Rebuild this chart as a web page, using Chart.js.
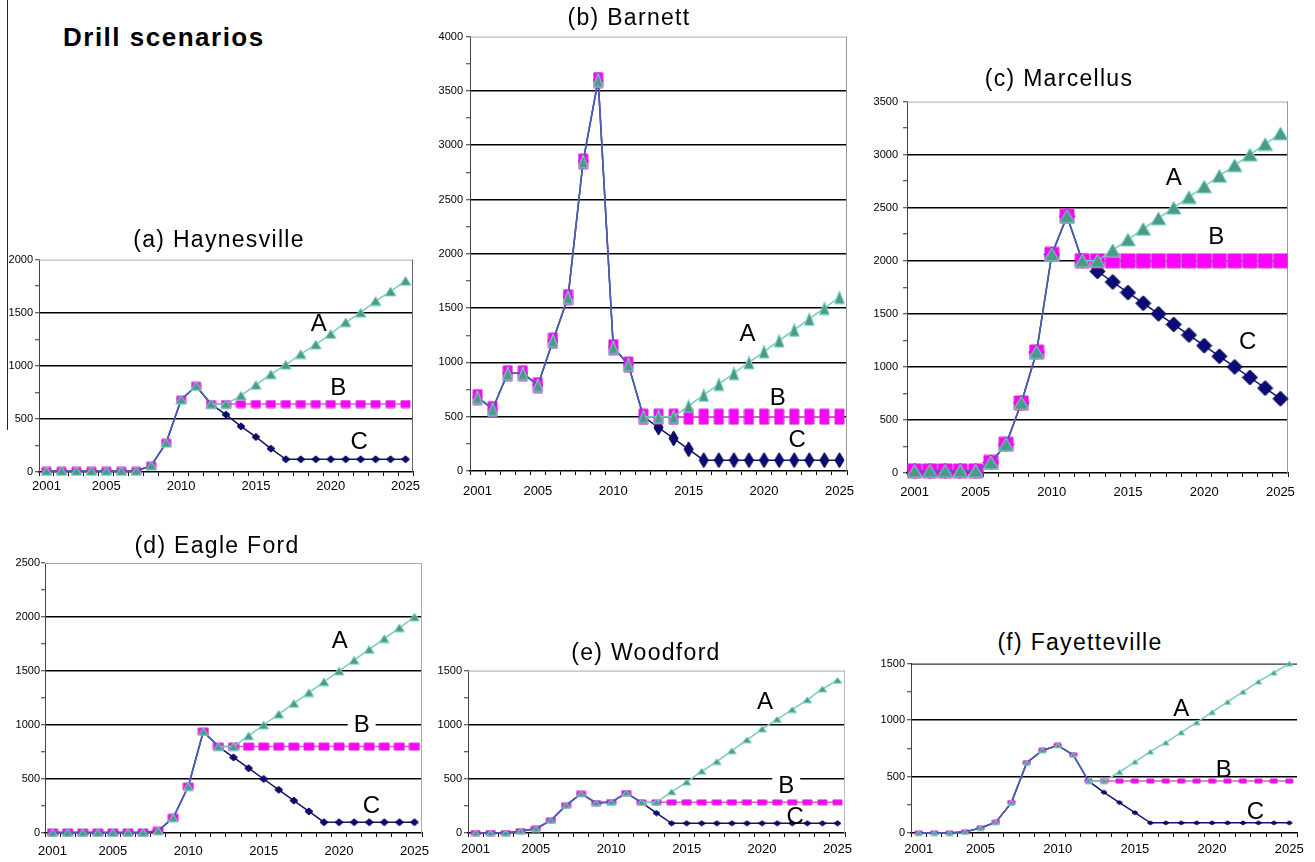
<!DOCTYPE html>
<html>
<head>
<meta charset="utf-8">
<script src="https://cdn.jsdelivr.net/npm/chart.js@4.4.1/dist/chart.umd.min.js"></script>
<style>
  body { margin: 0; background: #fff; width: 1315px; height: 862px; position: relative; overflow: hidden;
         font-family: Arial, "Liberation Sans", sans-serif; }
  #edge { position: absolute; left: 7px; top: 0; width: 1px; height: 430px; background: #222; }
  #heading { position: absolute; left: 63px; top: 22px; font-size: 26px; line-height: 30px; font-weight: bold;
             letter-spacing: 1.5px; white-space: nowrap; }
  .title { position: absolute; width: 300px; text-align: center; font-size: 23px; line-height: 26px;
           letter-spacing: 1.3px; white-space: nowrap; }
  canvas { position: absolute; }
</style>
</head>
<body>
<div id="edge"></div>
<div id="heading">Drill scenarios</div>
<script>
// years on the x axis, only some of them get a label
const years = ['2001','2002','2003','2004','2005','2006','2007','2008','2009','2010','2011','2012','2013',
               '2014','2015','2016','2017','2018','2019','2020','2021','2022','2023','2024','2025'];
const xTickLabels = ['2001','2005','2010','2015','2020','2025'];

// (a) Haynesville
const haynesvilleA = [10,10,10,10,10,10,10,60,275,680,810,640,640,720,820,920,1010,1110,1200,1300,1410,1500,1610,1700,1800];
const haynesvilleB = [10,10,10,10,10,10,10,60,275,680,810,640,640,640,640,640,640,640,640,640,640,640,640,640,640];
const haynesvilleC = [10,10,10,10,10,10,10,60,275,680,810,640,540,430,330,220,120,120,120,120,120,120,120,120,120];
// (b) Barnett
const barnettA = [680,570,900,900,790,1200,1600,2850,3600,1140,980,500,500,500,600,700,800,900,1000,1100,1200,1300,1400,1500,1600];
const barnettB = [680,570,900,900,790,1200,1600,2850,3600,1140,980,500,500,500,500,500,500,500,500,500,500,500,500,500,500];
const barnettC = [680,570,900,900,790,1200,1600,2850,3600,1140,980,500,400,300,200,100,100,100,100,100,100,100,100,100,100];
// (c) Marcellus
const marcellusA = [20,20,20,20,20,100,270,660,1140,2060,2420,2000,2000,2100,2200,2300,2400,2500,2600,2700,2800,2900,3000,3100,3200];
const marcellusB = [20,20,20,20,20,100,270,660,1140,2060,2420,2000,2000,2000,2000,2000,2000,2000,2000,2000,2000,2000,2000,2000,2000];
const marcellusC = [20,20,20,20,20,100,270,660,1140,2060,2420,2000,1900,1800,1700,1600,1500,1400,1300,1200,1100,1000,900,800,700];
// (d) Eagle Ford
const eagleFordA = [5,5,5,5,5,5,5,20,140,430,940,800,800,900,1000,1100,1200,1300,1400,1500,1600,1700,1800,1900,2000];
const eagleFordB = [5,5,5,5,5,5,5,20,140,430,940,800,800,800,800,800,800,800,800,800,800,800,800,800,800];
const eagleFordC = [5,5,5,5,5,5,5,20,140,430,940,800,700,600,500,400,300,200,100,100,100,100,100,100,100];
// (e) Woodford
const woodfordA = [0,0,0,18,40,117,255,363,277,286,369,283,283,380,470,570,660,760,860,960,1050,1140,1230,1330,1410];
const woodfordB = [0,0,0,18,40,117,255,363,277,286,369,283,283,283,283,283,283,283,283,283,283,283,283,283,283];
const woodfordC = [0,0,0,18,40,117,255,363,277,286,369,283,184,90,90,90,90,90,90,90,90,90,90,90,90];
// (f) Fayetteville
const fayettevilleA = [0,0,0,10,44,96,269,623,731,775,693,460,460,540,630,720,800,890,980,1070,1160,1250,1340,1420,1500];
const fayettevilleB = [0,0,0,10,44,96,269,623,731,775,693,460,460,460,460,460,460,460,460,460,460,460,460,460,460];
const fayettevilleC = [0,0,0,10,44,96,269,623,731,775,693,460,360,270,180,90,90,90,90,90,90,90,90,90,90];

// y axis maximum of each panel (a..f)
const yAxisMax = [2000, 4000, 3500, 2500, 1500, 1500];

Chart.defaults.font.family = 'Arial, "Liberation Sans", sans-serif';
Chart.defaults.color = '#000';

const histColor = '#4e5cae';

function marker(shape, w, h, fill, stroke) {
    const c = document.createElement('canvas');
    c.width = w + 2;
    c.height = h + 2;
    const g = c.getContext('2d');
    g.fillStyle = fill;
    g.strokeStyle = stroke;
    g.lineWidth = 1;
    g.beginPath();
    if (shape === 'tri') {
        g.moveTo(1 + w / 2, 1); g.lineTo(1 + w, 1 + h); g.lineTo(1, 1 + h);
    } else if (shape === 'dia') {
        g.moveTo(1 + w / 2, 1); g.lineTo(1 + w, 1 + h / 2); g.lineTo(1 + w / 2, 1 + h); g.lineTo(1, 1 + h / 2);
    } else {
        g.rect(1, 1, w, h);
    }
    g.closePath();
    g.fill();
    g.stroke();
    return c;
}

// plot rectangles [left, top, right, bottom] and title centres taken from the figure layout
const panels = [
    { title: '(a) Haynesville', A: haynesvilleA, B: haynesvilleB, C: haynesvilleC, max: yAxisMax[0],
      rect: [39, 259, 413, 472], titleAt: [219, 239], xPad: 3, yPad: 2,
      mk: { tri: [11, 9], sq: [9, 7], dia: [8, 7] }, top: '#aaa', right: '#666',
      letters: [{ t: 'A', x: 18.2, y: 1400 }, { t: 'B', x: 19.5, y: 800 }, { t: 'C', x: 20.9, y: 290 }] },
    { title: '(b) Barnett', A: barnettA, B: barnettB, C: barnettC, max: yAxisMax[1],
      rect: [470, 35, 847, 471], titleAt: [629, 17], xPad: 9, yPad: 3,
      mk: { tri: [10, 13], sq: [9, 15], dia: [9, 15] }, top: '#aaa', right: '#999',
      letters: [{ t: 'A', x: 17.9, y: 1270 }, { t: 'B', x: 19.9, y: 680 }, { t: 'C', x: 21.2, y: 290 }] },
    { title: '(c) Marcellus', A: marcellusA, B: marcellusB, C: marcellusC, max: yAxisMax[2],
      rect: [907, 98, 1288, 473], titleAt: [1059, 78], xPad: 8, yPad: 5,
      mk: { tri: [15, 13], sq: [14, 14], dia: [15, 15] }, top: '#aaa', right: '#999',
      letters: [{ t: 'A', x: 17.0, y: 2790 }, { t: 'B', x: 19.8, y: 2230 }, { t: 'C', x: 21.85, y: 1240 }] },
    { title: '(d) Eagle Ford', A: eagleFordA, B: eagleFordB, C: eagleFordC, max: yAxisMax[3],
      rect: [45, 563, 422, 833], titleAt: [217, 545], xPad: 7, yPad: 1,
      mk: { tri: [10, 8], sq: [10, 7], dia: [8, 7] }, top: '#aaa', right: '#aaa',
      letters: [{ t: 'A', x: 19.05, y: 1780 }, { t: 'B', x: 20.5, y: 1010, bg: true }, { t: 'C', x: 21.15, y: 260 }] },
    { title: '(e) Woodford', A: woodfordA, B: woodfordB, C: woodfordC, max: yAxisMax[4],
      rect: [468, 670, 845, 833], titleAt: [646, 652], xPad: 5, yPad: 2,
      mk: { tri: [9, 6], sq: [9, 5], dia: [7, 5] }, top: '#aaa', right: '#bbb',
      letters: [{ t: 'A', x: 19.2, y: 1220 }, { t: 'B', x: 20.6, y: 440, bg: true }, { t: 'C', x: 21.2, y: 150 }] },
    { title: '(f) Fayetteville', A: fayettevilleA, B: fayettevilleB, C: fayettevilleC, max: yAxisMax[5],
      rect: [911, 663, 1297, 833], titleAt: [1080, 642], xPad: 5, yPad: 2,
      mk: { tri: [7, 5], sq: [7, 4], dia: [6, 4] }, top: '#000', right: null,
      letters: [{ t: 'A', x: 17.0, y: 1100 }, { t: 'B', x: 19.75, y: 560 }, { t: 'C', x: 21.8, y: 190 }] }
];

function framePlugin(p) {
    return {
        id: 'frame',
        beforeDatasetsDraw(chart) {
            const a = chart.chartArea, g = chart.ctx;
            g.save();
            g.lineWidth = 1;
            if (p.top) {
                g.strokeStyle = p.top;
                g.beginPath(); g.moveTo(a.left, a.top + 0.5); g.lineTo(a.right, a.top + 0.5); g.stroke();
            }
            if (p.right) {
                g.strokeStyle = p.right;
                g.beginPath(); g.moveTo(a.right - 0.5, a.top); g.lineTo(a.right - 0.5, a.bottom); g.stroke();
            }
            g.restore();
        }
    };
}

function letterPlugin(p) {
    return {
        id: 'letters',
        afterDatasetsDraw(chart) {
            const g = chart.ctx;
            g.save();
            g.font = '24px Arial, "Liberation Sans", sans-serif';
            g.textAlign = 'center';
            g.textBaseline = 'middle';
            p.letters.forEach(it => {
                const x = chart.scales.x.getPixelForValue(it.x);
                const y = chart.scales.y.getPixelForValue(it.y);
                if (it.bg) {
                    const w = g.measureText(it.t).width + 12;
                    g.fillStyle = '#fff';
                    g.fillRect(x - w / 2, y - 10, w, 20);
                }
                g.fillStyle = '#000';
                g.fillText(it.t, x, y + 1);
            });
            g.restore();
        }
    };
}

panels.forEach(p => {
    const [L, T, R, B] = p.rect;
    const w = R - L + 60, h = B - T + 38;
    const cv = document.createElement('canvas');
    cv.width = w;
    cv.height = h;
    cv.style.left = (L - 40) + 'px';
    cv.style.top = (T - 8) + 'px';
    cv.style.width = w + 'px';
    cv.style.height = h + 'px';
    document.body.appendChild(cv);

    const t = document.createElement('div');
    t.className = 'title';
    t.textContent = p.title;
    t.style.left = (p.titleAt[0] - 150) + 'px';
    t.style.top = (p.titleAt[1] - 13) + 'px';
    document.body.appendChild(t);

    // last year where the three scenarios still share the same history
    let split = 0;
    while (split + 1 < years.length && p.A[split + 1] === p.B[split + 1] && p.B[split + 1] === p.C[split + 1]) split++;
    const seg = { borderColor: c => c.p1DataIndex <= split ? histColor : undefined };

    new Chart(cv, {
        type: 'line',
        data: {
            labels: years,
            datasets: [
                {
                    label: 'A', data: p.A, order: 0,
                    borderColor: '#7acbbd', borderWidth: 1.5,
                    pointStyle: marker('tri', p.mk.tri[0], p.mk.tri[1], '#4a9a88', '#86d8cc'),
                    pointRadius: 5, segment: seg, clip: 14
                },
                {
                    label: 'B', data: p.B, order: 1,
                    borderColor: '#dc5ad8', borderWidth: 1.5,
                    pointStyle: marker('sq', p.mk.sq[0], p.mk.sq[1], '#ff00ff', '#cc33cc'),
                    pointRadius: 5, segment: seg, clip: 14
                },
                {
                    label: 'C', data: p.C, order: 2,
                    borderColor: '#14146a', borderWidth: 1.5,
                    pointStyle: marker('dia', p.mk.dia[0], p.mk.dia[1], '#0a0a78', '#00004a'),
                    pointRadius: 5, segment: seg, clip: 14
                }
            ]
        },
        options: {
            responsive: false,
            animation: false,
            layout: { padding: { left: 0, top: 8, right: 20, bottom: 0 } },
            plugins: {
                legend: { display: false },
                tooltip: { enabled: false }
            },
            scales: {
                x: {
                    type: 'category',
                    offset: true,
                    afterFit: s => { s.height = 30; },
                    border: { color: '#000', width: 1.5 },
                    grid: { drawOnChartArea: false, offset: true, tickLength: 4, color: '#000', tickWidth: 1 },
                    ticks: {
                        autoSkip: false, maxRotation: 0, padding: p.xPad,
                        font: { size: 13 }, color: '#000',
                        callback: function (v) {
                            const l = this.getLabelForValue(v);
                            return xTickLabels.includes(l) ? l : '';
                        }
                    }
                },
                y: {
                    min: 0,
                    max: p.max,
                    afterFit: s => { s.width = 40; },
                    border: { color: '#444', width: 1 },
                    grid: {
                        color: c => (c.tick.value % 500 === 0 && c.tick.value > 0 && c.tick.value < p.max) ? '#000' : 'rgba(0,0,0,0)',
                        lineWidth: 1.5,
                        tickColor: '#333',
                        tickWidth: 1,
                        tickLength: 4
                    },
                    ticks: {
                        stepSize: 250, autoSkip: false, padding: p.yPad,
                        font: { size: 11 }, color: '#000',
                        callback: v => (v % 500 === 0 ? v : '')
                    }
                }
            }
        },
        plugins: [framePlugin(p), letterPlugin(p)]
    });
});
</script>
</body>
</html>
